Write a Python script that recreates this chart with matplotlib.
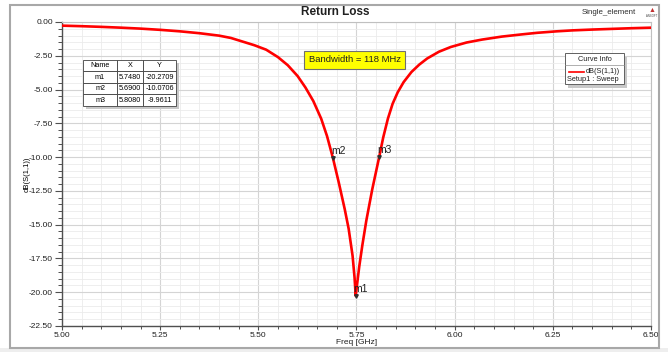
import numpy as np
import matplotlib
matplotlib.use('Agg')
import matplotlib.pyplot as plt
from matplotlib.patches import Rectangle
from matplotlib.ticker import MultipleLocator

plt.rcParams['font.family'] = ['Liberation Sans', 'DejaVu Sans']

# === Données ===
freq = [5.00, 5.05, 5.10, 5.15, 5.20, 5.25, 5.30, 5.35, 5.40, 5.43,
        5.46, 5.49, 5.52, 5.55, 5.575, 5.60, 5.62, 5.64, 5.66, 5.675,
        5.69, 5.705, 5.72, 5.73, 5.74, 5.745, 5.748, 5.752, 5.757, 5.765,
        5.775, 5.79, 5.808, 5.818, 5.83, 5.842, 5.855, 5.87, 5.89, 5.91,
        5.93, 5.96, 5.99, 6.03, 6.07, 6.12, 6.17, 6.21, 6.26, 6.30,
        6.35, 6.40, 6.45, 6.50]
s11_db = [-0.27, -0.31, -0.36, -0.42, -0.49, -0.58, -0.69, -0.83, -1.01, -1.18,
          -1.45, -1.72, -2.05, -2.60, -3.20, -4.00, -4.85, -5.85, -7.15, -8.45,
          -10.07, -11.90, -13.85, -15.30, -17.30, -18.90, -20.27, -19.30, -18.10, -16.50,
          -14.70, -12.40, -9.96, -8.55, -7.15, -6.05, -5.20, -4.45, -3.70, -3.15,
          -2.70, -2.20, -1.85, -1.52, -1.30, -1.08, -0.92, -0.80, -0.69, -0.62,
          -0.56, -0.51, -0.46, -0.42]

marker_names = ['m1', 'm2', 'm3']
marker_x = [5.7480, 5.6900, 5.8080]
marker_y = [-20.2709, -10.0706, -9.9611]

x_ticks = [5.00, 5.25, 5.50, 5.75, 6.00, 6.25, 6.50]
y_ticks = [0.00, -2.50, -5.00, -7.50, -10.00, -12.50, -15.00, -17.50, -20.00, -22.50]

W, H = 668, 352
fig = plt.figure(figsize=(W / 100, H / 100), dpi=100)
fig.patch.set_facecolor('white')

# cadre extérieur
fig.patches.append(Rectangle((0, 0), 1, 4 / H, transform=fig.transFigure,
                             facecolor='#eeeeee', edgecolor='none'))
fig.patches.append(Rectangle((10 / W, 1 - 348 / H), 649 / W, 343 / H, transform=fig.transFigure,
                             fill=False, edgecolor='#a8a8a8', lw=1.5))

ax = fig.add_axes([62 / W, 1 - 326 / H, 589 / W, 304 / H])
ax.plot(freq, s11_db, color='#ff0000', lw=1.9, solid_joinstyle='round', zorder=3)

ax.set_xlim(5.0, 6.5)
ax.set_ylim(-22.5, 0.0)
ax.set_xticks(x_ticks)
ax.set_xticklabels([f'{v:.2f}' for v in x_ticks])
ax.set_yticks(y_ticks)
ax.set_yticklabels([f'{v:.2f}' for v in y_ticks])
ax.xaxis.set_minor_locator(MultipleLocator(0.05))
ax.yaxis.set_minor_locator(MultipleLocator(0.5))
ax.tick_params(which='major', direction='out', length=5, width=0.8, color='#505050',
               labelsize=6, labelcolor='#202020', pad=1.5)
ax.tick_params(axis='x', which='major', length=3, pad=1)
ax.tick_params(which='minor', direction='out', length=3, width=0.7, color='#505050')
ax.tick_params(axis='x', which='minor', length=2)
ax.grid(which='major', color='#d4d4d4', lw=0.8)
ax.grid(which='minor', color='#ebebeb', lw=0.6)
ax.set_axisbelow(True)
for side in ['left', 'bottom']:
    ax.spines[side].set_color('#505050')
    ax.spines[side].set_linewidth(1.0)
for side in ['top', 'right']:
    ax.spines[side].set_color('#c0c0c0')
    ax.spines[side].set_linewidth(0.8)

fig.text(357 / W, 1 - 342 / H, 'Freq [GHz]', fontsize=6, ha='center', va='center', color='#202020')
ax.set_ylabel('dB(S(1,1))', fontsize=5.5, labelpad=-1)

# marqueurs
for name, mx, my in zip(marker_names, marker_x, marker_y):
    ax.plot(mx, my, marker='v', ms=2.5, color='#303030', zorder=4)
    ax.annotate(name, (mx, my), xytext=(-1.5, 1.5), textcoords='offset points',
                fontsize=7.5, color='#202020', ha='left', va='bottom', zorder=5)

# tableau des marqueurs
tx0, ty0, tw, th = 0.0357, 0.724, 0.158, 0.151
ax.add_patch(Rectangle((tx0 + 0.005, ty0 - 0.01), tw, th, transform=ax.transAxes,
                       facecolor='#c8c8c8', edgecolor='none', zorder=5))
rows = [[n, f'{x:.4f}', f'{y:.4f}'] for n, x, y in zip(marker_names, marker_x, marker_y)]
tab = ax.table(cellText=rows, colLabels=['Name', 'X', 'Y'], cellLoc='center',
               colWidths=[0.366, 0.28, 0.355], bbox=[tx0, ty0, tw, th], zorder=6)
tab.auto_set_font_size(False)
tab.set_fontsize(5.2)
for cell in tab.get_celld().values():
    cell.set_edgecolor('#404040')
    cell.set_linewidth(0.6)
    cell.set_facecolor('white')
    cell.PAD = 0.02

# bandwidth
ax.text(0.497, 0.875, 'Bandwidth = 118 MHz', transform=ax.transAxes, fontsize=6.8,
        ha='center', va='center', color='#202020', zorder=6,
        bbox=dict(boxstyle='square,pad=0.45', facecolor='#ffff00', edgecolor='#707070', lw=0.8))

# Curve Info
cx0, cy0, cw, ch = 0.854, 0.796, 0.100, 0.102
ax.add_patch(Rectangle((cx0 + 0.005, cy0 - 0.012), cw, ch, transform=ax.transAxes,
                       facecolor='#c8c8c8', edgecolor='none', zorder=5))
ax.add_patch(Rectangle((cx0, cy0), cw, ch, transform=ax.transAxes,
                       facecolor='white', edgecolor='#606060', lw=0.7, zorder=6))
ax.plot([cx0, cx0 + cw], [0.859, 0.859], transform=ax.transAxes, color='#909090', lw=0.5, zorder=7)
ax.text(cx0 + cw / 2, 0.877, 'Curve Info', transform=ax.transAxes, fontsize=5.3,
        ha='center', va='center', color='#202020', zorder=7)
ax.plot([0.860, 0.886], [0.836, 0.836], transform=ax.transAxes, color='#ff0000', lw=1.2, zorder=7)
ax.text(0.948, 0.836, 'dB(S(1,1))', transform=ax.transAxes, fontsize=5.3,
        ha='right', va='center', color='#202020', zorder=7)
ax.text(0.858, 0.810, 'Setup1 : Sweep', transform=ax.transAxes, fontsize=5.3,
        ha='left', va='center', color='#202020', zorder=7)

# titres
fig.text(335 / W, 1 - 12 / H, 'Return Loss', fontsize=8.5, fontweight='bold',
         ha='center', va='center', color='#202020')
fig.text(636 / W, 1 - 13 / H, 'Single_element', fontsize=5.7, ha='right', va='center',
         color='#303030')
fig.text(652 / W, 1 - 10 / H, '\u25B2', fontsize=5, ha='center', va='center', color='#c03030')
fig.text(652 / W, 1 - 16 / H, 'ANSOFT', fontsize=2, ha='center', va='center', color='#404040')

fig.savefig('out.png', dpi=100)
